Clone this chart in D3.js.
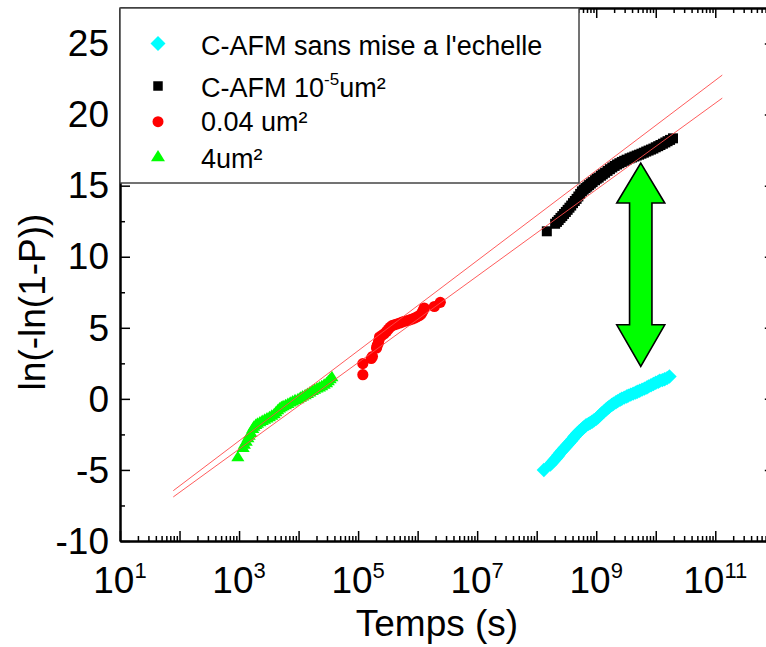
<!DOCTYPE html>
<html><head><meta charset="utf-8">
<script src="https://cdn.jsdelivr.net/npm/d3@7"></script>
<style>
body{margin:0;background:#fff}
svg{display:block;overflow:hidden}
text{font-family:"Liberation Sans",Arial,Helvetica,sans-serif;fill:#000}
</style>
</head><body>
<svg id="chart" width="766" height="647"></svg>
<script>
// ---------- data ----------
const xDomain = [1e1, 1e12];
const yDomain = [-10, 27.5];
const yTickValues = [-10, -5, 0, 5, 10, 15, 20, 25];
const yMinorValues = [-7.5, -2.5, 2.5, 7.5, 12.5, 17.5, 22.5, 27.5];
const xLabelExponents = [1, 3, 5, 7, 9, 11];

// C-AFM sans mise a l'echelle (cyan diamonds)
const rawT = [1.32e8,1.70e8,1.82e8,1.95e8,2.09e8,2.24e8,2.34e8,2.51e8,2.69e8,2.88e8,3.02e8,3.24e8,3.47e8,3.72e8,3.98e8,4.27e8,4.47e8,4.79e8,5.13e8,5.50e8,5.89e8,6.31e8,6.76e8,7.41e8,7.94e8,8.51e8,9.12e8,1.00e9,1.07e9,1.15e9,1.23e9,1.35e9,1.45e9,1.55e9,1.66e9,1.82e9,1.95e9,2.14e9,2.29e9,2.51e9,2.69e9,2.95e9,3.24e9,3.47e9,3.80e9,4.17e9,4.57e9,4.90e9,5.37e9,5.89e9,6.46e9,7.08e9,7.59e9,8.32e9,9.12e9,1.00e10,1.10e10,1.17e10,1.29e10,1.41e10,1.55e10,1.70e10];
const rawY = [-5.00,-4.62,-4.47,-4.33,-4.20,-4.06,-3.94,-3.78,-3.63,-3.50,-3.40,-3.27,-3.12,-2.98,-2.84,-2.69,-2.57,-2.44,-2.31,-2.20,-2.08,-1.97,-1.86,-1.76,-1.69,-1.61,-1.52,-1.41,-1.29,-1.16,-1.03,-0.89,-0.77,-0.66,-0.55,-0.43,-0.34,-0.24,-0.16,-0.06,0.01,0.09,0.17,0.23,0.30,0.37,0.44,0.50,0.57,0.65,0.72,0.80,0.88,0.96,1.05,1.13,1.21,1.27,1.32,1.38,1.46,1.57];

// C-AFM 10^-5 um² (black squares)
const scaledT = [1.48e8,2.04e8,2.19e8,2.34e8,2.51e8,2.69e8,2.88e8,3.09e8,3.31e8,3.55e8,3.80e8,4.07e8,4.37e8,4.68e8,5.01e8,5.37e8,5.75e8,6.17e8,6.61e8,7.08e8,7.59e8,8.13e8,8.71e8,9.55e8,1.02e9,1.10e9,1.20e9,1.29e9,1.41e9,1.55e9,1.70e9,1.86e9,2.04e9,2.24e9,2.45e9,2.69e9,2.95e9,3.24e9,3.63e9,3.98e9,4.37e9,4.79e9,5.25e9,5.75e9,6.31e9,6.92e9,7.59e9,8.32e9,9.12e9,1.00e10,1.10e10,1.20e10,1.32e10,1.45e10,1.58e10,1.74e10,1.95e10];
const scaledY = [11.79,12.32,12.45,12.58,12.73,12.86,13.01,13.15,13.30,13.45,13.60,13.77,13.92,14.07,14.24,14.42,14.60,14.72,14.83,14.93,15.04,15.15,15.25,15.38,15.49,15.57,15.70,15.80,15.91,16.04,16.16,16.28,16.39,16.49,16.58,16.67,16.75,16.83,16.92,16.98,17.05,17.12,17.18,17.25,17.32,17.40,17.47,17.54,17.61,17.70,17.78,17.86,17.95,18.04,18.13,18.22,18.33];

// 0.04 um² (red circles)
const medT = [1.20e5,1.20e5,1.66e5,1.74e5,2.04e5,2.09e5,2.19e5,2.24e5,2.29e5,2.51e5,2.75e5,3.02e5,3.24e5,3.47e5,3.72e5,4.07e5,4.47e5,5.01e5,5.50e5,6.03e5,6.76e5,7.41e5,8.13e5,8.91e5,9.77e5,1.07e6,1.15e6,1.20e6,1.26e6,1.29e6,1.91e6,2.40e6];
const medY = [1.70,2.48,2.84,2.98,3.58,3.75,3.93,4.12,4.35,4.47,4.58,4.76,4.91,5.05,5.15,5.21,5.27,5.34,5.40,5.46,5.51,5.56,5.62,5.69,5.77,5.86,5.97,6.12,6.28,6.39,6.50,6.79];

// 4 um² (green triangles)
const bigT = [9.55e2,1.17e3,1.23e3,1.32e3,1.41e3,1.48e3,1.58e3,1.70e3,1.78e3,1.91e3,2.04e3,2.24e3,2.45e3,2.69e3,2.95e3,3.24e3,3.55e3,3.89e3,4.17e3,4.47e3,4.79e3,5.13e3,5.50e3,6.03e3,6.61e3,7.24e3,7.94e3,8.71e3,9.77e3,1.07e4,1.17e4,1.29e4,1.41e4,1.55e4,1.70e4,1.86e4,2.04e4,2.24e4,2.45e4,2.69e4,2.95e4,3.16e4,3.39e4,3.63e4];
const bigY = [-4.09,-3.45,-3.22,-3.00,-2.75,-2.58,-2.38,-2.10,-1.95,-1.82,-1.73,-1.64,-1.55,-1.46,-1.37,-1.28,-1.18,-1.06,-0.93,-0.78,-0.67,-0.58,-0.51,-0.43,-0.34,-0.25,-0.17,-0.09,-0.01,0.09,0.18,0.27,0.36,0.46,0.56,0.66,0.75,0.82,0.90,1.00,1.12,1.26,1.40,1.54];

// fit lines: [t0, y0, t1, y1]
const fitUpper = [7.85e1, -6.46, 1.31e11, 22.78];
const fitLower = [7.85e1, -6.90, 1.31e11, 21.16];

// double arrow annotation: time, top value, bottom value
const arrowT = 5.6e9, arrowTop = 16.59, arrowBottom = 2.29;

const legendLabels = ["C-AFM sans mise a l'echelle", "C-AFM 10|-5|um²", "0.04 um²", "4um²"];

// ---------- drawing ----------
const svg = d3.select("#chart");
const L = 120, R = 774.8, T = 8, B = 541;
const x = d3.scaleLog().domain(xDomain).range([L, R]);
const y = d3.scaleLinear().domain(yDomain).range([B, T]);

// custom symbols
const triangleType = { draw(ctx, size) { const w = Math.sqrt(size) * 1.25, h = w * 0.8;
  ctx.moveTo(0, -h * 0.6); ctx.lineTo(w / 2, h * 0.4); ctx.lineTo(-w / 2, h * 0.4); ctx.closePath(); } };
const diamondType = { draw(ctx, size) { const r = Math.sqrt(size) / 2 * Math.SQRT2;
  ctx.moveTo(0, -r); ctx.lineTo(r, 0); ctx.lineTo(0, r); ctx.lineTo(-r, 0); ctx.closePath(); } };

const series = [
  {t: rawT, v: rawY, type: diamondType, size: 104, color: "#00ffff", lsize: 112},
  {t: scaledT, v: scaledY, type: d3.symbolSquare, size: 100, color: "#000000", lsize: 90},
  {t: medT, v: medY, type: d3.symbolCircle, size: 98, color: "#ff0000", lsize: 95},
  {t: bigT, v: bigY, type: triangleType, size: 110, color: "#00ff00", lsize: 125}
];

// data (draw green, red, black, cyan)
const drawOrder = [3, 2, 1, 0];
drawOrder.forEach(i => {
  const s = series[i];
  const pts = s.t.map((t, k) => [t, s.v[k]]);
  svg.append("g").selectAll("path").data(pts).join("path")
    .attr("transform", d => `translate(${x(d[0])},${y(d[1])})`)
    .attr("d", d3.symbol().type(s.type).size(s.size)())
    .attr("fill", s.color);
});

// fit lines
[fitUpper, fitLower].forEach(f => {
  svg.append("line")
    .attr("x1", x(f[0])).attr("y1", y(f[1]))
    .attr("x2", x(f[2])).attr("y2", y(f[3]))
    .attr("stroke", "#ff4a4a").attr("stroke-width", 0.9);
});

// arrow
(function(){
  const cx = x(arrowT), top = y(arrowTop), bot = y(arrowBottom);
  const hh = 40, hw = 24, sw = 11.2;
  const p = [[cx, top],[cx+hw, top+hh],[cx+sw, top+hh],[cx+sw, bot-hh-1.5],[cx+hw, bot-hh-1.5],[cx, bot],
             [cx-hw, bot-hh-1.5],[cx-sw, bot-hh-1.5],[cx-sw, top+hh],[cx-hw, top+hh]];
  svg.append("polygon").attr("points", p.map(d => d.join(",")).join(" "))
    .attr("fill", "#00ff00").attr("stroke", "#000").attr("stroke-width", 1.6).attr("stroke-linejoin", "miter");
})();

// axes ticks
const xMajor = d3.range(1, 13).map(e => Math.pow(10, e));
const xMinor = [];
for (let e = 1; e < 12; e++) for (let k = 2; k <= 9; k++) xMinor.push(k * Math.pow(10, e));

function styleAxis(g) {
  g.selectAll(".tick line").attr("stroke", "#000").attr("stroke-width", 1.5);
  g.select(".domain").attr("stroke", "#000").attr("stroke-width", 2);
}
const axes = svg.append("g");
// bottom
axes.append("g").attr("transform", `translate(0,${B})`)
  .call(d3.axisBottom(x).tickValues(xMinor).tickSizeInner(-5).tickSizeOuter(0).tickFormat(""))
  .call(styleAxis);
axes.append("g").attr("transform", `translate(0,${B})`)
  .call(d3.axisBottom(x).tickValues(xMajor).tickSizeInner(-10).tickSizeOuter(0).tickFormat(""))
  .call(styleAxis);
// top
axes.append("g").attr("transform", `translate(0,${T})`)
  .call(d3.axisTop(x).tickValues(xMinor).tickSizeInner(-5).tickSizeOuter(0).tickFormat(""))
  .call(styleAxis);
axes.append("g").attr("transform", `translate(0,${T})`)
  .call(d3.axisTop(x).tickValues(xMajor).tickSizeInner(-10).tickSizeOuter(0).tickFormat(""))
  .call(styleAxis);
// right
axes.append("g").attr("transform", `translate(${R},0)`)
  .call(d3.axisRight(y).tickValues(yMinorValues).tickSizeInner(-5).tickSizeOuter(0).tickFormat(""))
  .call(styleAxis);
axes.append("g").attr("transform", `translate(${R},0)`)
  .call(d3.axisRight(y).tickValues(yTickValues).tickSizeInner(-10).tickSizeOuter(0).tickFormat(""))
  .call(styleAxis);
// left
axes.append("g").attr("transform", `translate(${L},0)`)
  .call(d3.axisLeft(y).tickValues(yMinorValues).tickSizeInner(-5).tickSizeOuter(0).tickFormat(""))
  .call(styleAxis);
const yAx = axes.append("g").attr("transform", `translate(${L},0)`)
  .call(d3.axisLeft(y).tickValues(yTickValues).tickSizeInner(-10).tickSizeOuter(0).tickPadding(11).tickFormat(d3.format("d")))
  .call(styleAxis);
yAx.selectAll("text").attr("font-size", 37).attr("font-family", '"Liberation Sans",Arial,sans-serif').attr("fill", "#000")
  .attr("dy", "0.33em").text(d => d < 0 ? "-" + Math.abs(d) : d);

// x tick labels 10^n
const xl = svg.append("g").selectAll("text").data(xLabelExponents).join("text")
  .attr("x", e => x(Math.pow(10, e))).attr("y", 593)
  .attr("text-anchor", "middle").attr("font-size", 37);
xl.append("tspan").text("10");
xl.append("tspan").attr("font-size", 22).attr("dy", -15).text(e => e);

// axis titles
svg.append("text").attr("x", 437).attr("y", 636).attr("text-anchor", "middle")
  .attr("font-size", 37).text("Temps (s)");
svg.append("text").attr("transform", "translate(45,302) rotate(-90)").attr("text-anchor", "middle")
  .attr("font-size", 37).text("ln(-ln(1-P))");

// legend
const lg = svg.append("g");
lg.append("rect").attr("x", L).attr("y", T).attr("width", 459).attr("height", 175)
  .attr("fill", "#fff").attr("stroke", "#444").attr("stroke-width", 1.5);
const rowSym = [43.5, 86, 121.7, 156.7];
const rowBase = [55, 97, 131, 168];
series.forEach((s, i) => {
  lg.append("path").attr("transform", `translate(158,${rowSym[i]})`)
    .attr("d", d3.symbol().type(s.type).size(s.lsize)()).attr("fill", s.color);
  const parts = legendLabels[i].split("|");
  const t = lg.append("text").attr("x", 201).attr("y", rowBase[i]).attr("font-size", 27);
  if (parts.length === 1) t.text(parts[0]);
  else {
    t.append("tspan").text(parts[0]);
    t.append("tspan").attr("font-size", 17).attr("dy", -12).text(parts[1]);
    t.append("tspan").attr("dy", 12).text(parts[2]);
  }
});
</script>
</body></html>
